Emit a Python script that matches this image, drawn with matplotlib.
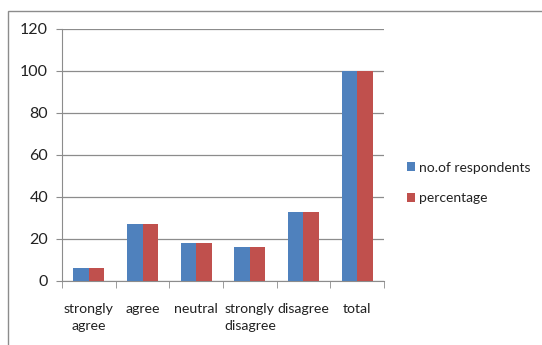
import numpy as np
import matplotlib.pyplot as plt
from matplotlib.patches import Rectangle

# responses per answer category
categories = ['strongly\nagree', 'agree', 'neutral', 'strongly\ndisagree', 'disagree', 'total']
respondents = [6, 27, 18, 16, 33, 100]
percentage = [6, 27, 18, 16, 33, 100]

plt.rcParams['font.family'] = ['Lato', 'DejaVu Sans']
plt.rcParams['font.size'] = 10.2

fig = plt.figure(figsize=(5.42, 3.45), dpi=100)
fig.patch.set_facecolor('white')

# outer chart frame
fig.patches.append(Rectangle((8 / 542, -0.05), 1.0, 1 - 11 / 345 + 0.05,
                             transform=fig.transFigure, fill=False,
                             edgecolor='#8c8c8c', linewidth=1.0))

ax = fig.add_axes([62 / 542, 1 - 281 / 345, (384 - 62) / 542, (281 - 29) / 345])

x = np.arange(len(categories))
w = 0.29
ax.bar(x - w / 2, respondents, w, color='#4F81BD', label='no.of respondents', zorder=3)
ax.bar(x + w / 2, percentage, w, color='#C0504D', label='percentage', zorder=3)

ax.set_xlim(-0.5, len(categories) - 0.5)
ax.set_ylim(0, 120)
ax.set_yticks(range(0, 121, 20))
ax.yaxis.grid(True, color='#8c8c8c', linewidth=0.9, zorder=0)

ax.set_xticks(x)
ax.set_xticklabels(categories, color='#222222', linespacing=1.45)
ax.set_xticks(np.arange(-0.5, len(categories)), minor=True)
ax.tick_params(axis='x', which='major', length=0, pad=16)
ax.tick_params(axis='x', which='minor', length=5, color='#8c8c8c', direction='out')
ax.tick_params(axis='y', length=4, color='#8c8c8c', labelsize=11.5, pad=6,
               labelcolor='#222222')

for s in ['top', 'right']:
    ax.spines[s].set_visible(False)
for s in ['left', 'bottom']:
    ax.spines[s].set_color('#8c8c8c')

fig.legend(loc='upper left', bbox_to_anchor=(394 / 542, 1 - 149 / 345),
           frameon=False, handlelength=0.6, handleheight=0.6,
           handletextpad=0.3, labelspacing=1.35, fontsize=10,
           labelcolor='#222222')

fig.savefig('out.png', dpi=100)
